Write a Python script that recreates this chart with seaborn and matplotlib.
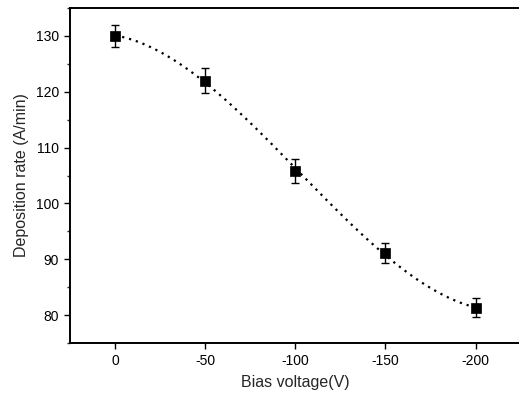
import numpy as np
import pandas as pd
import matplotlib
matplotlib.use("Agg")
import matplotlib.pyplot as plt
import seaborn as sns
from matplotlib.ticker import MultipleLocator

bias = [0, -50, -100, -150, -200]
rate = [130.0, 122.0, 105.8, 91.1, 81.3]
err = [1.9, 2.2, 2.1, 1.8, 1.7]
xticks = [0, -50, -100, -150, -200]
yticks = [80, 90, 100, 110, 120, 130]

sns.set_style("ticks")
plt.rcParams['font.family'] = ['Liberation Sans', 'DejaVu Sans']

df = pd.DataFrame({"bias": bias, "rate": rate, "err": err})
coef = np.polyfit(df["bias"], df["rate"], 3)
xf = np.linspace(0, -200, 200)
fit = pd.DataFrame({"bias": xf, "rate": np.polyval(coef, xf)})

fig = plt.figure(figsize=(5.19, 3.99), dpi=100)
ax = fig.add_axes([0.135, 0.14, 0.868, 0.84])

sns.lineplot(data=fit, x="bias", y="rate", ax=ax, color="black",
             linestyle=(0, (1, 2.2)), linewidth=1.6)
ax.errorbar(df["bias"], df["rate"], yerr=df["err"], fmt="none",
            ecolor="black", elinewidth=1.0, capsize=2.8, capthick=1.0)
sns.scatterplot(data=df, x="bias", y="rate", ax=ax, marker="s", s=48,
                color="black", edgecolor="black", linewidth=0.5, zorder=5)

ax.set_xlim(25, -225)
ax.set_ylim(75, 135)
ax.set_xticks(xticks)
ax.set_xticklabels([str(v) for v in xticks])
ax.set_yticks(yticks)
ax.yaxis.set_minor_locator(MultipleLocator(5))
ax.tick_params(axis="both", which="major", direction="out", length=4,
               width=1.0, labelsize=10, colors="black", pad=4)
ax.tick_params(axis="y", which="minor", direction="out", length=2.5, width=1.0)
ax.set_xlabel("Bias voltage(V)", fontsize=11.5, labelpad=5)
ax.set_ylabel("Deposition rate (A/min)", fontsize=11.5, labelpad=5)
for side in ["left", "bottom", "top"]:
    ax.spines[side].set_linewidth(1.4)
    ax.spines[side].set_color("black")
ax.spines["right"].set_visible(False)

fig.savefig("out.png", dpi=100)
